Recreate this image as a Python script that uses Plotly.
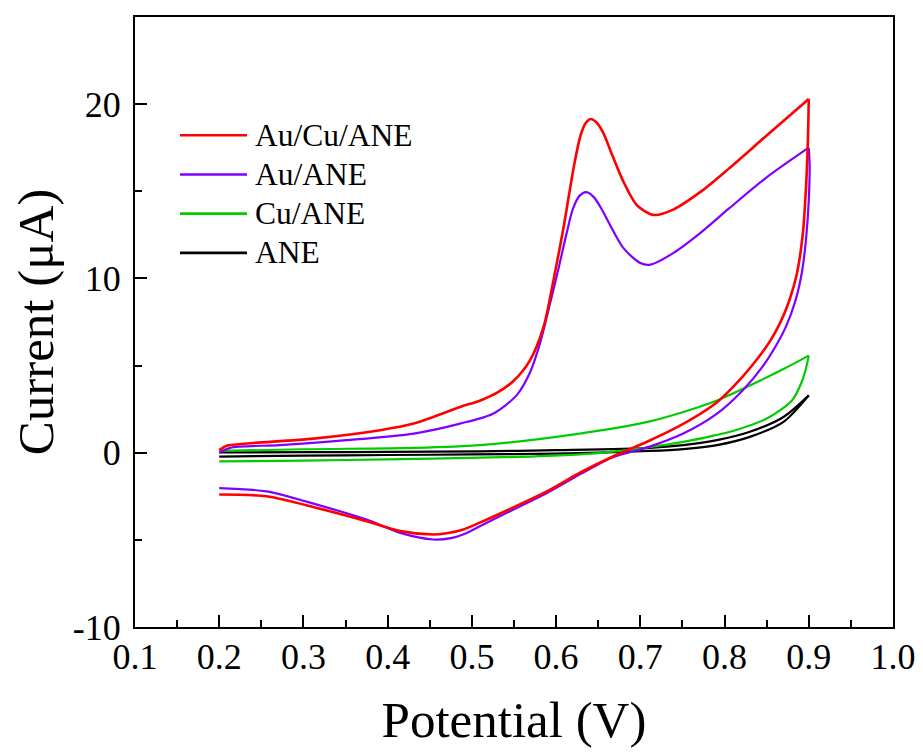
import plotly.graph_objects as go

# ---------------- data ----------------
series_names = ["Au/Cu/ANE", "Au/ANE", "Cu/ANE", "ANE"]
series_colors = ["#FF0000", "#7F00FF", "#00CC00", "#000000"]

# Au/Cu/ANE  (forward = upper branch, reverse = lower branch)
red_fwd_x = [0.2, 0.209, 0.233, 0.312, 0.391, 0.431, 0.454, 0.486, 0.51, 0.53, 0.549,
             0.569, 0.585, 0.597, 0.609, 0.621, 0.629, 0.635, 0.641, 0.648, 0.656,
             0.666, 0.68, 0.696, 0.716, 0.739, 0.771, 0.805, 0.85, 0.9]
red_fwd_y = [0.15, 0.4, 0.53, 0.81, 1.29, 1.67, 2.05, 2.62, 3.0, 3.45, 4.1,
             5.3, 7.2, 9.93, 12.97, 16.4, 18.2, 18.9, 19.15, 18.95, 18.35,
             17.15, 15.54, 14.2, 13.64, 13.95, 14.95, 16.3, 18.2, 20.3]
red_rev_x = [0.9, 0.899, 0.897, 0.893, 0.886, 0.877, 0.866, 0.854, 0.84, 0.822, 0.791,
             0.747, 0.708, 0.668, 0.63, 0.589, 0.533, 0.51, 0.49, 0.47, 0.454, 0.415,
             0.375, 0.316, 0.256, 0.2]
red_rev_y = [20.3, 18.0, 15.5, 12.6, 10.3, 8.75, 7.45, 6.4, 5.45, 4.4, 2.9,
             1.55, 0.63, -0.2, -1.1, -2.22, -3.5, -4.0, -4.4, -4.62, -4.69, -4.5,
             -3.93, -3.17, -2.5, -2.4]

# Au/ANE
pur_fwd_x = [0.2, 0.213, 0.272, 0.351, 0.431, 0.486, 0.525, 0.553, 0.569, 0.581, 0.593,
             0.603, 0.613, 0.62, 0.628, 0.636, 0.645, 0.655, 0.664, 0.68, 0.70, 0.712,
             0.739, 0.771, 0.805, 0.85, 0.9]
pur_fwd_y = [0.0, 0.28, 0.44, 0.72, 1.1, 1.67, 2.24, 3.29, 4.6, 6.3, 8.6,
             10.6, 12.7, 14.0, 14.75, 14.95, 14.65, 13.9, 13.07, 11.74, 10.88, 10.79,
             11.45, 12.6, 14.0, 15.8, 17.5]
pur_rev_x = [0.9, 0.901, 0.9, 0.897, 0.892, 0.884, 0.873, 0.86, 0.846, 0.822, 0.791,
             0.751, 0.711, 0.668, 0.63, 0.589, 0.533, 0.51, 0.494, 0.475, 0.454, 0.415,
             0.375, 0.316, 0.256, 0.2]
pur_rev_y = [17.5, 16.5, 14.5, 12.4, 10.4, 8.7, 7.25, 6.05, 5.0, 3.6, 2.24,
             1.1, 0.35, -0.25, -1.2, -2.32, -3.65, -4.2, -4.6, -4.9, -4.98, -4.6,
             -3.84, -2.98, -2.22, -2.03]

# Cu/ANE
grn_fwd_x = [0.2, 0.3, 0.431, 0.51, 0.628, 0.711, 0.751, 0.791, 0.83, 0.87, 0.9]
grn_fwd_y = [0.1, 0.2, 0.28, 0.44, 1.1, 1.8, 2.34, 3.0, 3.86, 4.8, 5.57]
grn_rev_x = [0.9, 0.897, 0.892, 0.88, 0.85, 0.81, 0.787, 0.751, 0.708, 0.67, 0.628,
             0.57, 0.51, 0.4, 0.3, 0.2]
grn_rev_y = [5.57, 4.9, 4.1, 3.0, 1.96, 1.25, 0.98, 0.62, 0.3, 0.08, -0.1,
             -0.22, -0.28, -0.38, -0.45, -0.5]

# ANE
blk_fwd_x = [0.2, 0.3, 0.4, 0.51, 0.6, 0.711, 0.751, 0.791, 0.83, 0.87, 0.9]
blk_fwd_y = [0.02, 0.03, 0.05, 0.08, 0.15, 0.28, 0.44, 0.72, 1.2, 2.05, 3.29]
blk_rev_x = [0.9, 0.87, 0.83, 0.791, 0.751, 0.711, 0.6, 0.5, 0.4, 0.3, 0.2]
blk_rev_y = [3.29, 1.77, 0.91, 0.44, 0.21, 0.1, -0.05, -0.1, -0.13, -0.17, -0.22]

x_ticks = [0.1, 0.2, 0.3, 0.4, 0.5, 0.6, 0.7, 0.8, 0.9, 1.0]
x_tick_labels = ["0.1", "0.2", "0.3", "0.4", "0.5", "0.6", "0.7", "0.8", "0.9", "1.0"]
y_ticks = [-10, 0, 10, 20]
y_tick_labels = ["-10", "0", "10", "20"]

# ---------------- figure ----------------
FONT = "Liberation Serif, Times New Roman, serif"
W, H = 915, 740          # page body has an 8px margin
ML, MR, MT, MB = 127, 30, 7, 121
PW, PH = W - ML - MR, H - MT - MB

fig = go.Figure()
curves = [
    (red_fwd_x, red_fwd_y, red_rev_x, red_rev_y),
    (pur_fwd_x, pur_fwd_y, pur_rev_x, pur_rev_y),
    (grn_fwd_x, grn_fwd_y, grn_rev_x, grn_rev_y),
    (blk_fwd_x, blk_fwd_y, blk_rev_x, blk_rev_y),
]
for i in [3, 2, 1, 0]:
    fx, fy, rx, ry = curves[i]
    for (xx, yy) in [(fx, fy), (rx, ry)]:
        fig.add_trace(go.Scatter(
            x=xx, y=yy, mode="lines", name=series_names[i],
            legendgroup=series_names[i], showlegend=False,
            line=dict(color=series_colors[i], width=2.6 if i == 0 else 2.2,
                      shape="spline", smoothing=0.8),
            hoverinfo="skip"))

# legend drawn like the reference (long line samples); positions in page pixels
leg_y0 = 133.7 - 8
leg_dy = 39.3
def px_x(p):
    return (p - ML) / PW
def px_y(p):
    return (MT + PH - p) / PH
for k, (nm, col) in enumerate(zip(series_names, series_colors)):
    ypx = leg_y0 + k * leg_dy
    fig.add_shape(type="line", xref="paper", yref="paper",
                  x0=px_x(180 - 8), x1=px_x(247 - 8), y0=px_y(ypx), y1=px_y(ypx),
                  line=dict(color=col, width=2.6))
    fig.add_annotation(text=nm, xref="paper", yref="paper",
                       x=px_x(253 - 8), y=px_y(ypx),
                       xanchor="left", yanchor="middle", showarrow=False,
                       font=dict(family=FONT, size=31.5, color="black"))

fig.update_layout(
    width=W, height=H,
    margin=dict(l=ML, r=MR, t=MT, b=MB),
    paper_bgcolor="white", plot_bgcolor="white",
    showlegend=False,
    font=dict(family=FONT, color="black"),
)
fig.update_xaxes(
    range=[0.1, 1.0], tickmode="array", tickvals=x_ticks, ticktext=x_tick_labels,
    ticks="inside", ticklen=12, tickwidth=2, tickcolor="black",
    minor=dict(ticks="inside", ticklen=7, tickwidth=2, tickcolor="black", dtick=0.05,
               tick0=0.1, showgrid=False),
    showline=True, linewidth=2, linecolor="black", mirror=True,
    showgrid=False, zeroline=False,
    tickfont=dict(family=FONT, size=36, color="black"),
    ticklabelstandoff=-3,
    title=dict(text="Potential (V)", font=dict(family=FONT, size=51, color="black"),
               standoff=28),
)
fig.update_yaxes(
    range=[-10, 25], tickmode="array", tickvals=y_ticks, ticktext=y_tick_labels,
    ticks="inside", ticklen=12, tickwidth=2, tickcolor="black",
    minor=dict(ticks="inside", ticklen=7, tickwidth=2, tickcolor="black", dtick=5,
               tick0=-10, showgrid=False),
    showline=True, linewidth=2, linecolor="black", mirror=True,
    showgrid=False, zeroline=False,
    tickfont=dict(family=FONT, size=36, color="black"),
    ticklabelstandoff=5,
    title=dict(text="Current (μA)", font=dict(family=FONT, size=51, color="black"),
               standoff=10),
)

fig.write_html("out.html")
